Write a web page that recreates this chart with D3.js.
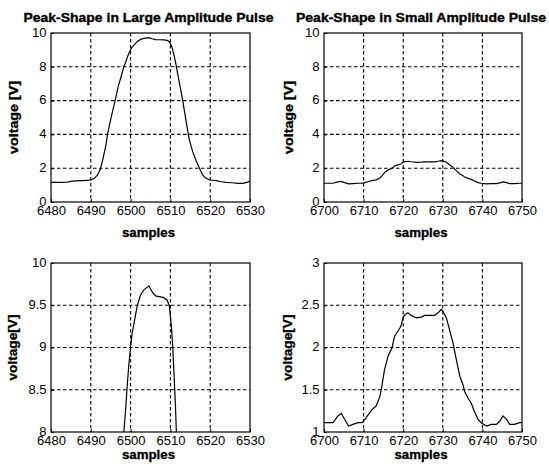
<!DOCTYPE html>
<html><head><meta charset="utf-8">
<script src="https://cdn.jsdelivr.net/npm/d3@7"></script>
<style>
html,body{margin:0;padding:0;background:#fff;}
svg{display:block;}
text{font-family:"Liberation Sans",Arial,Helvetica,sans-serif;fill:#000;}
</style></head>
<body>
<svg id="c" width="549" height="470"></svg>
<script>
// ---- data (sample index, voltage [V]) ----
const largePulse = [
 [6480,1.16],[6482,1.16],[6484,1.17],[6485,1.22],[6486,1.25],[6488,1.27],[6489.5,1.29],
 [6490.3,1.33],[6490.9,1.4],[6491.7,1.6],[6492.4,1.93],[6493,2.5],[6493.8,3.37],[6494.2,4.0],
 [6494.7,4.56],[6495.3,5.2],[6496.1,6.0],[6496.9,6.84],[6497.75,7.53],[6498.3,8.0],[6498.75,8.26],
 [6499.2,8.58],[6499.6,8.82],[6500,9.01],[6500.4,9.17],[6500.9,9.3],[6501.7,9.5],[6502.5,9.62],
 [6503.3,9.68],[6504.6,9.73],[6505.4,9.66],[6506.25,9.61],[6507.5,9.6],[6508.3,9.59],[6509.2,9.56],
 [6509.75,9.49],[6510,9.37],[6510.25,9.25],[6510.6,9.0],[6510.85,8.74],[6511.25,8.34],[6511.5,8.0],
 [6512.3,7.0],[6513.1,6.0],[6513.9,4.85],[6514.5,4.0],[6514.75,3.67],[6515.6,2.98],[6516.4,2.49],
 [6517.3,2.0],[6518.1,1.6],[6518.9,1.4],[6520,1.3],[6521.5,1.26],[6522.7,1.2],[6524,1.16],
 [6525.6,1.14],[6526.9,1.1],[6528.2,1.1],[6529.4,1.18],[6530,1.24]
];
const smallPulse = [
 [6700,1.11],[6701,1.11],[6702.3,1.11],[6703.5,1.19],[6704.4,1.22],[6705.2,1.15],[6706.2,1.07],
 [6707.3,1.09],[6708.6,1.11],[6709.6,1.11],[6710.3,1.15],[6711.1,1.2],[6712,1.26],[6713.2,1.31],
 [6714.1,1.42],[6714.6,1.54],[6715.3,1.74],[6716.2,1.9],[6717.2,2.0],[6717.8,2.13],[6718.9,2.21],
 [6719.4,2.25],[6720,2.36],[6720.5,2.39],[6721.2,2.41],[6722,2.38],[6723.3,2.35],[6724.6,2.36],
 [6725.4,2.38],[6727.1,2.38],[6727.9,2.38],[6728.8,2.41],[6729.6,2.45],[6730,2.43],[6730.9,2.35],
 [6731.7,2.21],[6732.6,2.05],[6733.4,1.86],[6734.3,1.66],[6735.1,1.56],[6735.5,1.48],[6736.4,1.4],
 [6737.2,1.34],[6738,1.24],[6738.9,1.15],[6739.7,1.11],[6741,1.07],[6742.3,1.09],[6743.5,1.09],
 [6744.4,1.13],[6745.2,1.19],[6746.1,1.15],[6746.9,1.09],[6748.1,1.09],[6749.4,1.11],[6750,1.11]
];
const xTicksLarge = [6480,6490,6500,6510,6520,6530];
const xTicksSmall = [6700,6710,6720,6730,6740,6750];
const yTicksFull = [0,2,4,6,8,10];
const yTicksLargeZoom = [8,8.5,9,9.5,10];
const yTicksSmallZoom = [1,1.5,2,2.5,3];
const titles = ["Peak-Shape in Large Amplitude Pulse","Peak-Shape in Small Amplitude Pulse"];
const xLabel = "samples";
const yLabels = ["voltage [V]","voltage[V]"];

// ---- layout ----
const panels = [
 {l:51, r:250, t:33, b:202, data:largePulse, xt:xTicksLarge, yt:yTicksFull, title:titles[0], yl:yLabels[0], ylx:18, ylen:73, sy:237},
 {l:324,r:522, t:33, b:202, data:smallPulse, xt:xTicksSmall, yt:yTicksFull, title:titles[1], yl:yLabels[0], ylx:293, ylen:73, sy:237},
 {l:51, r:250, t:263,b:432, data:largePulse, xt:xTicksLarge, yt:yTicksLargeZoom, title:null, yl:yLabels[1], ylx:17, ylen:66, sy:459},
 {l:324,r:522, t:263,b:432, data:smallPulse, xt:xTicksSmall, yt:yTicksSmallZoom, title:null, yl:yLabels[1], ylx:292, ylen:66, sy:459}
];

const svg = d3.select("#c");
panels.forEach((p,i)=>{
  const x = d3.scaleLinear().domain(d3.extent(p.xt)).range([p.l,p.r]);
  const y = d3.scaleLinear().domain(d3.extent(p.yt)).range([p.b,p.t]);
  const g = svg.append("g");
  const cid = "clip"+i;
  svg.append("defs").append("clipPath").attr("id",cid)
    .append("rect").attr("x",p.l).attr("y",p.t).attr("width",p.r-p.l).attr("height",p.b-p.t);

  // grid
  g.selectAll(".gx").data(p.xt.slice(1,-1)).enter().append("line")
    .attr("x1",d=>x(d)).attr("x2",d=>x(d)).attr("y1",p.t).attr("y2",p.b)
    .attr("stroke","#000").attr("stroke-width",1.1).attr("stroke-dasharray","3.5,2.5");
  g.selectAll(".gy").data(p.yt.slice(1,-1)).enter().append("line")
    .attr("y1",d=>y(d)).attr("y2",d=>y(d)).attr("x1",p.l).attr("x2",p.r)
    .attr("stroke","#000").attr("stroke-width",1.1).attr("stroke-dasharray","3.5,2.5");

  // axes (ticks inward)
  const ax = d3.axisBottom(x).tickValues(p.xt).tickSizeInner(-3).tickSizeOuter(0).tickPadding(4).tickFormat(d3.format("d"));
  const gxA = g.append("g").attr("transform",`translate(0,${p.b})`).call(ax);
  gxA.select(".domain").remove();
  gxA.selectAll("text").attr("font-size",13).attr("dy","0.72em").attr("y",3.8);
  gxA.selectAll("line").attr("stroke","#000");
  const ay = d3.axisLeft(y).tickValues(p.yt).tickSizeInner(-3).tickSizeOuter(0).tickPadding(5).tickFormat(d=>String(d));
  const gyA = g.append("g").attr("transform",`translate(${p.l},0)`).call(ay);
  gyA.select(".domain").remove();
  gyA.selectAll("text").attr("font-size",13).attr("x",-4.5).attr("dy","0.25em");
  gyA.selectAll("line").attr("stroke","#000");
  g.selectAll(".tick text").attr("font-family",'"Liberation Sans",Arial,sans-serif');

  // curve
  const line = d3.line().x(d=>x(d[0])).y(d=>y(d[1]));
  g.append("path").datum(p.data).attr("d",line).attr("fill","none")
    .attr("stroke","#000").attr("stroke-width",1.2).attr("clip-path",`url(#${cid})`);

  // frame
  g.append("rect").attr("x",p.l).attr("y",p.t).attr("width",p.r-p.l).attr("height",p.b-p.t)
    .attr("fill","none").attr("stroke","#000").attr("stroke-width",1.2);

  const cx = (p.l+p.r)/2;
  if(p.title){
    g.append("text").attr("x",cx-2).attr("y",22).attr("text-anchor","middle")
      .attr("font-size",12.5).attr("font-weight","bold").attr("stroke","#000").attr("stroke-width",0.35)
      .attr("textLength",250).attr("lengthAdjust","spacingAndGlyphs").text(p.title);
  }
  g.append("text").attr("x",cx-2).attr("y",p.sy).attr("text-anchor","middle")
    .attr("font-size",12).attr("font-weight","bold").attr("stroke","#000").attr("stroke-width",0.3)
    .attr("textLength",53).attr("lengthAdjust","spacingAndGlyphs").text(xLabel);
  g.append("text").attr("transform",`translate(${p.ylx},${(p.t+p.b)/2}) rotate(-90)`)
    .attr("text-anchor","middle").attr("font-size",12).attr("font-weight","bold")
    .attr("stroke","#000").attr("stroke-width",0.3)
    .attr("textLength",p.ylen).attr("lengthAdjust","spacingAndGlyphs").text(p.yl);
});
</script>
</body></html>
